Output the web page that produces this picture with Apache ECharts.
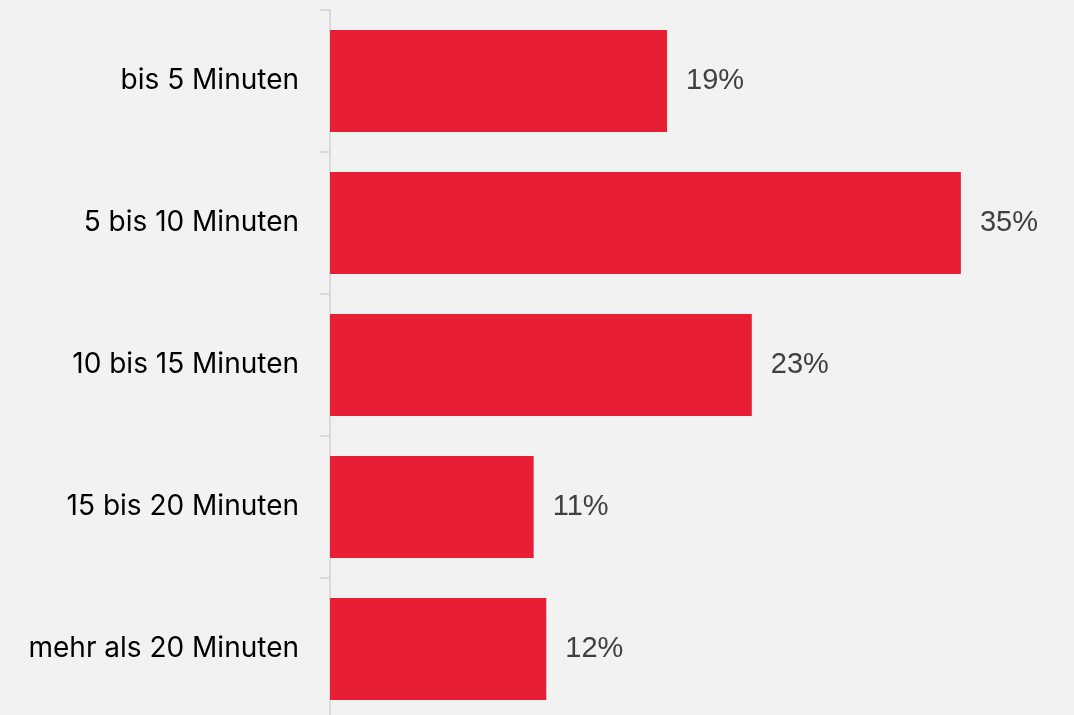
<!DOCTYPE html>
<html>
<head>
<meta charset="utf-8">
<script src="https://cdn.jsdelivr.net/npm/echarts@6/dist/echarts.min.js"></script>
<style>html,body{margin:0;padding:0;background:#f2f2f2;overflow:hidden;}#c{width:1074px;height:720px;}</style>
</head>
<body>
<div id="c"></div>
<script>
const categories = ["bis 5 Minuten", "5 bis 10 Minuten", "10 bis 15 Minuten", "15 bis 20 Minuten", "mehr als 20 Minuten"];
const values = [18.7, 35.0, 23.4, 11.3, 12.0];

const chart = echarts.init(document.getElementById('c'), null, {renderer: 'canvas'});
chart.setOption({
  backgroundColor: '#f2f2f2',
  animation: false,
  grid: {left: 330, right: 23, top: 10, bottom: 0, containLabel: false},
  xAxis: {
    type: 'value', min: 0, max: 40, show: false
  },
  yAxis: {
    type: 'category', data: categories, inverse: true,
    axisLine: {show: true, lineStyle: {color: '#d9d9d9', width: 2}},
    axisTick: {show: true, length: 10, lineStyle: {color: '#d9d9d9', width: 2}},
    axisLabel: {margin: 31, color: '#000000', fontSize: 28, fontFamily: 'Inter'},
    splitLine: {show: false}
  },
  series: [{
    type: 'bar', data: values, barCategoryGap: '28%',
    itemStyle: {color: '#e81e35'},
    label: {
      show: true, position: 'right', distance: 19,
      color: '#404040', fontSize: 29, fontFamily: 'Liberation Sans',
      formatter: p => Math.round(p.value) + '%'
    }
  }]
});
</script>
</body>
</html>
